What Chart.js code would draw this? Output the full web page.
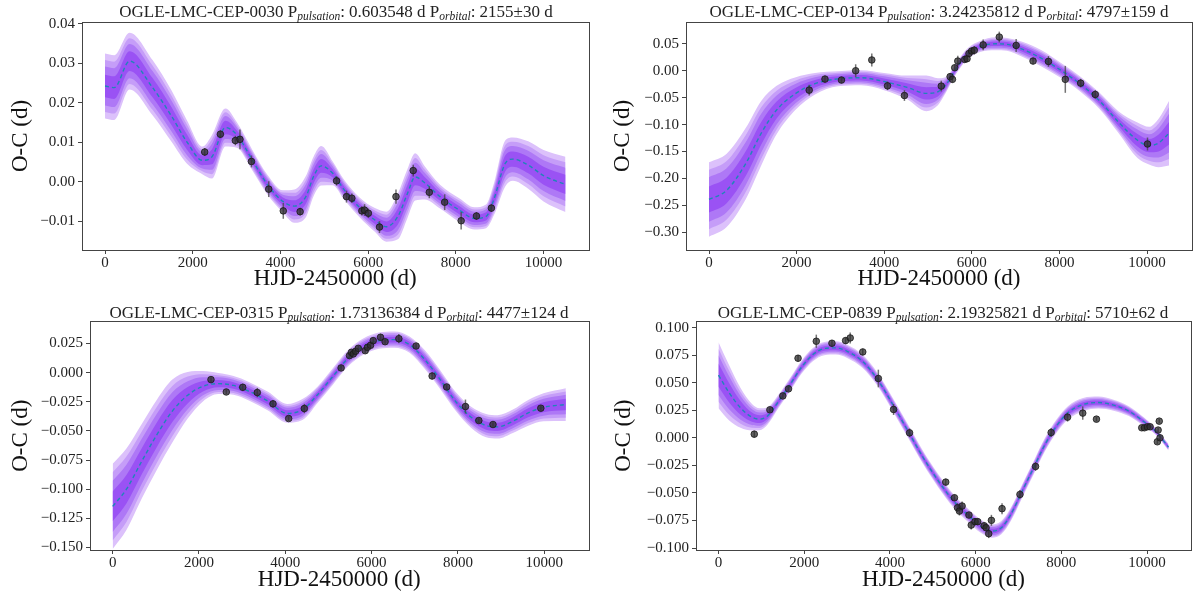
<!DOCTYPE html>
<html>
<head>
<meta charset="utf-8">
<script src="https://cdn.jsdelivr.net/npm/chart.js@4.4.1/dist/chart.umd.min.js"></script>
<style>
  body { margin: 0; width: 1200px; height: 598px; position: relative; background: #fff; overflow: hidden; }
  canvas { position: absolute; }
  .ttl { position: absolute; transform: translate(-50%, -50%); white-space: nowrap;
         font-family: 'Liberation Serif', serif; font-size: 17px; color: #222; }
  .ttl sub { font-size: 11.5px; font-style: italic; vertical-align: -3px; }
</style>
</head>
<body>
<canvas id="c1" width="600" height="299" style="left:0;top:0"></canvas>
<canvas id="c2" width="600" height="299" style="left:600px;top:0"></canvas>
<canvas id="c3" width="600" height="299" style="left:0;top:299px"></canvas>
<canvas id="c4" width="600" height="299" style="left:600px;top:299px"></canvas>
<div class="ttl" style="left:336px;top:12px">OGLE-LMC-CEP-0030 P<sub>pulsation</sub>: 0.603548 d P<sub>orbital</sub>: 2155±30 d</div>
<div class="ttl" style="left:939px;top:12px">OGLE-LMC-CEP-0134 P<sub>pulsation</sub>: 3.24235812 d P<sub>orbital</sub>: 4797±159 d</div>
<div class="ttl" style="left:339px;top:313px">OGLE-LMC-CEP-0315 P<sub>pulsation</sub>: 1.73136384 d P<sub>orbital</sub>: 4477±124 d</div>
<div class="ttl" style="left:943px;top:313px">OGLE-LMC-CEP-0839 P<sub>pulsation</sub>: 2.19325821 d P<sub>orbital</sub>: 5710±62 d</div>
<script>
const X_TICKS = [0, 2000, 4000, 6000, 8000, 10000];

// OGLE-LMC-CEP-0030
const p1X = [0, 210, 560, 1084, 1521, 1870, 2220, 2439, 2745, 3007, 3357, 3706, 4056, 4318, 4580, 4755, 4930, 5192, 5455, 5804, 6154, 6416, 6678, 6897, 7072, 7290, 7640, 8077, 8427, 8689, 8864, 9126, 9300, 9650, 10000, 10500];
const p1Mean = [0.0242, 0.0238, 0.0305, 0.0238, 0.0165, 0.0100, 0.0054, 0.0063, 0.0137, 0.0118, 0.0055, -0.0008, -0.0050, -0.0062, -0.0038, 0.0013, 0.0040, 0.0021, -0.0021, -0.0065, -0.0097, -0.0114, -0.0088, -0.0030, 0.0012, -0.0003, -0.0038, -0.0072, -0.0093, -0.0088, -0.0046, 0.0046, 0.0057, 0.0042, 0.0015, -0.0007];
const p1Width = [0.0082, 0.0082, 0.0072, 0.0070, 0.0065, 0.0055, 0.0035, 0.0055, 0.0048, 0.0032, 0.0026, 0.0025, 0.0028, 0.0042, 0.0052, 0.0050, 0.0050, 0.0030, 0.0025, 0.0025, 0.0030, 0.0038, 0.0058, 0.0062, 0.0060, 0.0042, 0.0030, 0.0030, 0.0028, 0.0030, 0.0040, 0.0058, 0.0055, 0.0060, 0.0065, 0.0070];
const p1PtX = [2273, 2631, 2972, 3077, 3339, 3733, 4065, 4449, 5280, 5507, 5629, 5857, 5918, 6005, 6259, 6635, 7028, 7395, 7745, 8121, 8470, 8811];
const p1PtY = [0.0075, 0.0120, 0.0104, 0.0107, 0.0051, -0.0019, -0.0074, -0.0076, 0.0002, -0.0038, -0.0042, -0.0074, -0.0072, -0.0080, -0.0115, -0.0038, 0.0028, -0.0027, -0.0052, -0.0099, -0.0087, -0.0067];
const p1PtErr = [0.0010, 0.0010, 0.0012, 0.0025, 0.0015, 0.0020, 0.0020, 0.0010, 0.0012, 0.0015, 0.0012, 0.0012, 0.0015, 0.0012, 0.0015, 0.0018, 0.0015, 0.0015, 0.0020, 0.0022, 0.0010, 0.0010];
const p1YTicks = [-0.01, 0.00, 0.01, 0.02, 0.03, 0.04];

// OGLE-LMC-CEP-0134
const p2X = [0, 403, 841, 1192, 1543, 1981, 2419, 2945, 3471, 3996, 4522, 4961, 5224, 5399, 5574, 5749, 5925, 6188, 6538, 6801, 7151, 7590, 8028, 8466, 8904, 9343, 9781, 10044, 10263, 10500];
const p2Mean = [-0.239, -0.222, -0.172, -0.116, -0.073, -0.042, -0.024, -0.015, -0.013, -0.020, -0.031, -0.042, -0.039, -0.027, -0.005, 0.017, 0.033, 0.045, 0.050, 0.049, 0.040, 0.023, 0.001, -0.024, -0.055, -0.095, -0.129, -0.139, -0.134, -0.116];
const p2Width = [0.069, 0.068, 0.066, 0.060, 0.045, 0.030, 0.020, 0.014, 0.014, 0.016, 0.022, 0.033, 0.025, 0.015, 0.010, 0.010, 0.010, 0.010, 0.012, 0.012, 0.014, 0.015, 0.014, 0.014, 0.015, 0.020, 0.033, 0.035, 0.045, 0.060];
const p2PtX = [2287, 2647, 3024, 3348, 3716, 4075, 4461, 5302, 5504, 5557, 5609, 5679, 5837, 5890, 5934, 5995, 6056, 6258, 6626, 7011, 7397, 7748, 8133, 8484, 8817, 10009];
const p2PtY = [-0.036, -0.0155, -0.0173, 0.000, 0.020, -0.028, -0.046, -0.0285, -0.011, -0.016, 0.0056, 0.018, 0.021, 0.0223, 0.032, 0.0366, 0.038, 0.048, 0.0626, 0.047, 0.018, 0.0173, -0.016, -0.023, -0.044, -0.136];
const p2PtErr = [0.010, 0.006, 0.006, 0.012, 0.012, 0.008, 0.010, 0.010, 0.006, 0.006, 0.006, 0.010, 0.006, 0.006, 0.006, 0.006, 0.008, 0.010, 0.010, 0.012, 0.006, 0.010, 0.025, 0.008, 0.008, 0.012];
const p2YTicks = [-0.30, -0.25, -0.20, -0.15, -0.10, -0.05, 0.00, 0.05];

// OGLE-LMC-CEP-0315
const p3X = [0, 319, 674, 1028, 1383, 1738, 2092, 2447, 2801, 3156, 3599, 4043, 4397, 4752, 5106, 5461, 5816, 6170, 6525, 6879, 7234, 7589, 7943, 8298, 8652, 8918, 9273, 9628, 9982, 10500];
const p3Mean = [-0.1147, -0.100, -0.076, -0.053, -0.033, -0.0194, -0.0117, -0.0094, -0.011, -0.016, -0.0245, -0.035, -0.0317, -0.0188, -0.0031, 0.0126, 0.0225, 0.0274, 0.0283, 0.024, 0.0111, -0.006, -0.0245, -0.038, -0.0454, -0.0465, -0.0417, -0.0345, -0.0297, -0.0274];
const p3Width = [0.0365, 0.035, 0.032, 0.030, 0.027, 0.020, 0.013, 0.009, 0.008, 0.008, 0.008, 0.008, 0.009, 0.007, 0.007, 0.007, 0.007, 0.007, 0.007, 0.007, 0.008, 0.008, 0.008, 0.009, 0.010, 0.010, 0.010, 0.011, 0.012, 0.014];
const p3PtX = [2278, 2633, 3014, 3351, 3715, 4078, 4441, 5293, 5488, 5532, 5576, 5629, 5691, 5851, 5904, 5975, 6037, 6206, 6312, 6631, 7030, 7402, 7739, 8174, 8484, 8812, 9920];
const p3PtY = [-0.0060, -0.0166, -0.0126, -0.0171, -0.0268, -0.0394, -0.0308, 0.0040, 0.0146, 0.0174, 0.0160, 0.0183, 0.0208, 0.0188, 0.0217, 0.0234, 0.0274, 0.0303, 0.0265, 0.0291, 0.0228, -0.0029, -0.0123, -0.0291, -0.0411, -0.0445, -0.0305];
const p3PtErr = [0.002, 0.002, 0.003, 0.004, 0.003, 0.002, 0.004, 0.002, 0.002, 0.002, 0.002, 0.002, 0.002, 0.002, 0.002, 0.002, 0.002, 0.003, 0.002, 0.004, 0.002, 0.003, 0.002, 0.006, 0.002, 0.002, 0.002];
const p3YTicks = [-0.150, -0.125, -0.100, -0.075, -0.050, -0.025, 0.000, 0.025];

// OGLE-LMC-CEP-0839
const p4X = [0, 249, 515, 782, 959, 1137, 1403, 1670, 1936, 2202, 2469, 2735, 3002, 3357, 3712, 4067, 4423, 4778, 5133, 5488, 5844, 6110, 6377, 6599, 6821, 7087, 7353, 7620, 7886, 8153, 8508, 8863, 9218, 9574, 9929, 10195, 10500];
const p4Mean = [0.0568, 0.0408, 0.0272, 0.0187, 0.0169, 0.0196, 0.0332, 0.0483, 0.0640, 0.0755, 0.0810, 0.0816, 0.0785, 0.0695, 0.0529, 0.0302, 0.0060, -0.0181, -0.0393, -0.0574, -0.0710, -0.0800, -0.0846, -0.0816, -0.0695, -0.0483, -0.0272, -0.0060, 0.0106, 0.0227, 0.0302, 0.0320, 0.0296, 0.0242, 0.0145, 0.0060, -0.0085];
const p4Width = [0.030, 0.025, 0.018, 0.012, 0.010, 0.008, 0.006, 0.006, 0.006, 0.006, 0.006, 0.006, 0.006, 0.006, 0.006, 0.006, 0.006, 0.006, 0.006, 0.006, 0.006, 0.006, 0.006, 0.006, 0.006, 0.006, 0.006, 0.006, 0.006, 0.006, 0.006, 0.0055, 0.005, 0.0045, 0.004, 0.003, 0.003];
const p4PtX = [835, 1199, 1501, 1634, 1856, 2282, 2647, 2966, 3073, 3366, 3730, 4085, 4458, 5302, 5506, 5577, 5622, 5684, 5844, 5897, 5986, 6048, 6199, 6243, 6305, 6368, 6616, 7034, 7398, 7762, 8144, 8499, 8819, 9876, 9938, 10009, 10071, 10240, 10258, 10284, 10302];
const p4PtY = [0.0033, 0.0254, 0.0380, 0.0444, 0.0722, 0.0876, 0.0858, 0.0882, 0.0906, 0.0779, 0.0538, 0.0257, 0.0045, -0.0402, -0.0544, -0.0634, -0.0665, -0.0619, -0.0701, -0.0792, -0.0761, -0.0761, -0.0798, -0.0816, -0.0870, -0.0749, -0.0643, -0.0514, -0.0260, 0.0048, 0.0187, 0.0224, 0.0169, 0.0091, 0.0091, 0.0100, 0.0100, -0.0036, 0.0070, 0.0151, 0.0000];
const p4PtErr = [0.003, 0.002, 0.002, 0.002, 0.003, 0.006, 0.003, 0.003, 0.005, 0.003, 0.008, 0.005, 0.004, 0.003, 0.003, 0.004, 0.004, 0.004, 0.002, 0.004, 0.003, 0.003, 0.003, 0.003, 0.004, 0.005, 0.005, 0.004, 0.004, 0.004, 0.004, 0.006, 0.002, 0.001, 0.001, 0.001, 0.001, 0.002, 0.002, 0.002, 0.002];
const p4YTicks = [-0.100, -0.075, -0.050, -0.025, 0.000, 0.025, 0.050, 0.075, 0.100];

// fraction of the outer band half-width for each shade, inner first
const BAND_LEVELS = [0.35, 0.6, 0.8, 1.0];
const BAND_COLORS = ['#9a52f4', '#ae78f6', '#c59df8', '#dcc1fb'];
const FONT = "'Liberation Serif', 'Times New Roman', serif";

const errorBars = {
  id: 'errorBars',
  beforeDatasetDraw(chart, args) {
    if (args.index !== 0) return;
    const ds = chart.data.datasets[0];
    const sx = chart.scales.x, sy = chart.scales.y, ctx = chart.ctx;
    ctx.save();
    ctx.strokeStyle = 'rgba(70,70,70,0.75)';
    ctx.lineWidth = 1.5;
    ds.data.forEach((pt, i) => {
      const px = sx.getPixelForValue(pt.x);
      ctx.beginPath();
      ctx.moveTo(px, sy.getPixelForValue(pt.y - ds.err[i]));
      ctx.lineTo(px, sy.getPixelForValue(pt.y + ds.err[i]));
      ctx.stroke();
    });
    ctx.restore();
  }
};

const frame = {
  id: 'frame',
  afterDraw(chart) {
    const a = chart.chartArea, ctx = chart.ctx;
    ctx.save();
    ctx.strokeStyle = '#444';
    ctx.lineWidth = 1;
    ctx.strokeRect(Math.round(a.left) + 0.5, Math.round(a.top) + 0.5, Math.round(a.right - a.left), Math.round(a.bottom - a.top));
    ctx.restore();
  }
};

function makeChart(id, p) {
  const datasets = [];
  datasets.push({
    type: 'scatter',
    data: p.ptX.map((x, i) => ({ x: x, y: p.ptY[i] })),
    err: p.ptErr,
    backgroundColor: 'rgba(45,45,45,0.75)',
    borderColor: 'rgba(25,25,25,0.8)',
    borderWidth: 1,
    pointRadius: 3.3,
    order: 0
  });
  datasets.push({
    type: 'line',
    data: p.x.map((x, i) => ({ x: x, y: p.mean[i] })),
    borderColor: '#1f86b8',
    borderWidth: 1.4,
    borderDash: [4, 3],
    pointRadius: 0,
    cubicInterpolationMode: 'monotone',
    fill: false,
    order: 1
  });
  BAND_LEVELS.forEach((k, j) => {
    datasets.push({
      type: 'line',
      data: p.x.map((x, i) => ({ x: x, y: p.mean[i] + k * p.width[i] })),
      borderColor: 'transparent', borderWidth: 0, pointRadius: 0,
      cubicInterpolationMode: 'monotone',
      backgroundColor: BAND_COLORS[j],
      fill: '+1',
      order: 2 + j
    });
    datasets.push({
      type: 'line',
      data: p.x.map((x, i) => ({ x: x, y: p.mean[i] - k * p.width[i] })),
      borderColor: 'transparent', borderWidth: 0, pointRadius: 0,
      cubicInterpolationMode: 'monotone',
      fill: false,
      order: 2 + j
    });
  });

  new Chart(document.getElementById(id), {
    type: 'line',
    data: { datasets: datasets },
    plugins: [errorBars, frame],
    options: {
      responsive: false,
      animation: false,
      layout: { padding: { left: 0, top: p.top, right: p.right, bottom: 0 } },
      plugins: { legend: { display: false }, tooltip: { enabled: false } },
      scales: {
        x: {
          type: 'linear', min: -525, max: 11025,
          afterBuildTicks: s => { s.ticks = X_TICKS.map(v => ({ value: v })); },
          afterFit: s => { s.height = p.xh; },
          ticks: { font: { family: FONT, size: 15 }, color: '#222', padding: 0, maxRotation: 0, autoSkip: false,
                   callback: v => String(v) },
          grid: { drawOnChartArea: false, tickLength: 4, color: '#444' },
          border: { display: false },
          title: { display: true, text: 'HJD-2450000 (d)', color: '#111',
                   font: { family: FONT, size: 23 }, padding: { top: 0, bottom: p.xpad } }
        },
        y: {
          type: 'linear', min: p.ymin, max: p.ymax,
          afterBuildTicks: s => { s.ticks = p.yTicks.map(v => ({ value: v })); },
          afterFit: s => { s.width = p.left; },
          ticks: { font: { family: FONT, size: 15 }, color: '#222', padding: 3, autoSkip: false,
                   callback: v => v.toFixed(p.dec).replace('-', '\u2212') },
          grid: { drawOnChartArea: false, tickLength: 4, color: '#444' },
          border: { display: false },
          title: { display: true, text: 'O-C (d)', color: '#111',
                   font: { family: FONT, size: 23 }, padding: { top: p.ypad, bottom: 0 } }
        }
      }
    }
  });
}

makeChart('c1', { x: p1X, mean: p1Mean, width: p1Width, ptX: p1PtX, ptY: p1PtY, ptErr: p1PtErr, yTicks: p1YTicks,
  dec: 2, ymin: -0.0173, ymax: 0.0404, left: 82, right: 11.5, top: 22, xh: 49, xpad: 6, ypad: 7 });
makeChart('c2', { x: p2X, mean: p2Mean, width: p2Width, ptX: p2PtX, ptY: p2PtY, ptErr: p2PtErr, yTicks: p2YTicks,
  dec: 2, ymin: -0.3328, ymax: 0.0905, left: 86, right: 8, top: 22, xh: 49, xpad: 6, ypad: 9 });
makeChart('c3', { x: p3X, mean: p3Mean, width: p3Width, ptX: p3PtX, ptY: p3PtY, ptErr: p3PtErr, yTicks: p3YTicks,
  dec: 3, ymin: -0.1521, ymax: 0.0440, left: 90, right: 11.5, top: 22.3, xh: 48, xpad: 4.5, ypad: 7 });
makeChart('c4', { x: p4X, mean: p4Mean, width: p4Width, ptX: p4PtX, ptY: p4PtY, ptErr: p4PtErr, yTicks: p4YTicks,
  dec: 3, ymin: -0.1018, ymax: 0.1057, left: 96, right: 9, top: 22.3, xh: 48, xpad: 4.5, ypad: 10 });
</script>
</body>
</html>
